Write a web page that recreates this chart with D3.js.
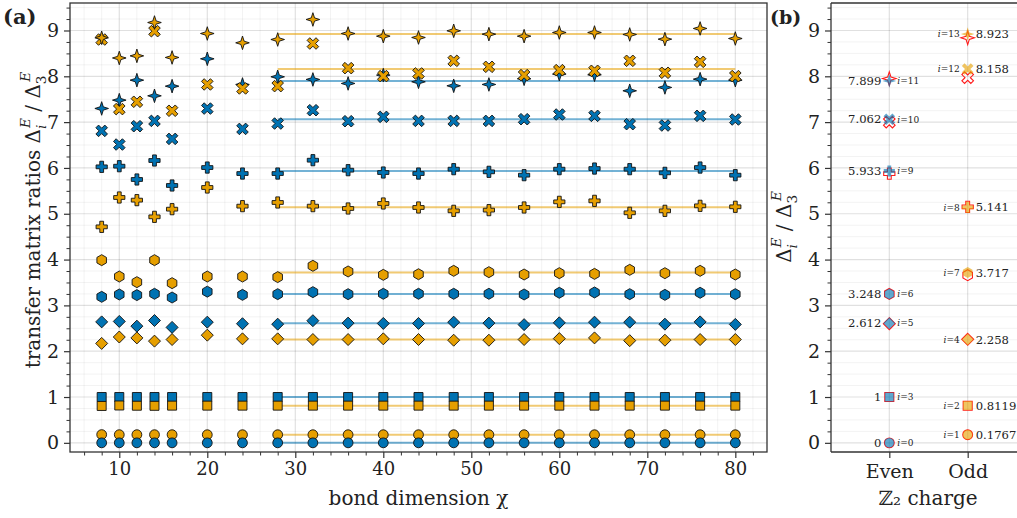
<!DOCTYPE html>
<html>
<head>
<meta charset="utf-8">
<script src="https://cdn.jsdelivr.net/npm/d3@7"></script>
<style>
  html, body { margin: 0; padding: 0; background: #fff; }
  text { font-family: "DejaVu Serif", serif; fill: #222; }
</style>
</head>
<body>
<svg id="chart" width="1017" height="518"></svg>
<script>
// ---------------- DATA ----------------
const chi = [8,10,12,14,16,20,24,28,32,36,40,44,48,52,56,60,64,68,72,76,80];
const xTicks = [10,20,30,40,50,60,70,80];
const yTicks = [0,1,2,3,4,5,6,7,8,9];
const chargeLabels = ["Even", "Odd"];

const L0  = [0,0,0,0,0,0,0,0,0,0,0,0,0,0,0,0,0,0,0,0,0];
const L1  = [0.18,0.178,0.178,0.178,0.178,0.177,0.177,0.177,0.177,0.177,0.177,0.177,0.177,0.177,0.177,0.177,0.177,0.177,0.177,0.177,0.177];
const L2  = [0.805,0.815,0.81,0.808,0.812,0.812,0.812,0.812,0.812,0.812,0.812,0.812,0.812,0.812,0.812,0.812,0.812,0.812,0.812,0.812,0.812];
const L3  = [1,1,1,1,1,1,1,1,1,1,1,1,1,1,1,1,1,1,1,1,1];
const L4  = [2.17,2.31,2.29,2.22,2.255,2.35,2.27,2.27,2.255,2.255,2.27,2.255,2.24,2.24,2.255,2.275,2.29,2.23,2.24,2.255,2.255];
const L5  = [2.64,2.65,2.547,2.67,2.52,2.634,2.6,2.59,2.666,2.613,2.606,2.606,2.634,2.613,2.58,2.62,2.634,2.634,2.59,2.64,2.585];
const L6  = [3.187,3.238,3.224,3.253,3.172,3.3,3.23,3.245,3.289,3.245,3.253,3.253,3.253,3.253,3.238,3.275,3.282,3.245,3.23,3.275,3.245];
const L7  = [3.987,3.63,3.507,3.987,3.485,3.63,3.63,3.617,3.864,3.74,3.667,3.68,3.754,3.725,3.674,3.703,3.688,3.776,3.703,3.754,3.674];
const L8  = [4.714,5.355,5.297,4.933,5.1,5.573,5.166,5.246,5.166,5.115,5.224,5.137,5.064,5.079,5.137,5.26,5.282,5.021,5.064,5.173,5.152];
const L9  = [6.024,6.038,5.748,6.162,5.617,6.009,5.878,5.878,6.169,5.951,5.9,5.878,5.973,5.915,5.842,5.973,5.987,5.973,5.893,6.009,5.842];
const L10 = [6.809,6.511,6.911,7.027,6.634,7.296,6.852,6.969,7.26,7.02,7.115,7.027,7.027,7.027,7.064,7.166,7.137,6.955,6.926,7.137,7.057];
const L11 = [7.298,7.48,7.916,7.574,7.785,8.382,7.822,7.989,7.931,7.844,8.026,7.88,7.793,7.822,7.946,8.048,8.033,7.684,7.757,7.938,7.916];
const L12 = [8.803,7.284,7.444,8.985,7.248,7.822,7.735,7.785,8.716,8.178,8.004,8.062,8.338,8.207,8.026,8.135,8.12,8.338,8.077,8.316,8.004];
const L13 = [8.84,8.4,8.446,9.174,8.411,8.934,8.731,8.803,9.24,8.934,8.876,8.847,8.993,8.92,8.876,8.956,8.956,8.913,8.811,9.044,8.825];
const levels = [L0,L1,L2,L3,L4,L5,L6,L7,L8,L9,L10,L11,L12,L13];

// extrapolated (fitted) ratios, shown as lines in (a) and filled markers in (b)
const fitted = [0,0.1767,0.8119,1,2.258,2.612,3.248,3.717,5.141,5.933,7.062,7.899,8.158,8.923];
// reference values (red open markers in (b))
const exact  = [0,0.177,0.81,1,2.26,2.6,3.25,3.66,5.15,5.875,7.0,7.95,7.97,8.84];
// Z2 charge of each level: 0 = even, 1 = odd
const charge = [0,1,1,0,1,0,0,1,1,0,0,0,1,1];
const shapes = ["circle","circle","rect","rect","diamond","diamond","hexagon","hexagon","cross","cross","xcross","star4","xcross","star4"];
const fitStart = 28, fitEnd = 80;
const drawOrder = [1,0,3,2,4,5,6,7,8,9,10,11,12,13];

// ---------------- STYLE ----------------
const BLUE = "#0072B2", ORANGE = "#E69F00";
const col = c => c === 0 ? BLUE : ORANGE;

function shapePath(shape) {
  switch (shape) {
    case "circle": { const r = 4.9; return `M${r},0A${r},${r} 0 1 1 ${-r},0A${r},${r} 0 1 1 ${r},0Z`; }
    case "rect": { const s = 4.5; return `M${-s},${-s}H${s}V${s}H${-s}Z`; }
    case "diamond": { const h = 6; return `M0,${-h}L${h},0L0,${h}L${-h},0Z`; }
    case "hexagon": {
      const r = 5.5; const p = d3.range(6).map(k => { const a = -Math.PI/2 + k*Math.PI/3; return [r*Math.cos(a), r*Math.sin(a)]; });
      return "M" + p.map(q => q.join(",")).join("L") + "Z";
    }
    case "cross": case "xcross": {
      const a = shape === "cross" ? 5.6 : 6.3, w = 1.9;
      let p = [[-w,-a],[w,-a],[w,-w],[a,-w],[a,w],[w,w],[w,a],[-w,a],[-w,w],[-a,w],[-a,-w],[-w,-w]];
      if (shape === "xcross") { const c = Math.SQRT1_2; p = p.map(([x,y]) => [c*(x-y), c*(x+y)]); }
      return "M" + p.map(q => q.map(v => v.toFixed(2)).join(",")).join("L") + "Z";
    }
    case "star4": {
      const R = 6.8, r = 2.3; const p = [];
      for (let k = 0; k < 8; k++) { const a = -Math.PI/2 + k*Math.PI/4; const rr = k % 2 ? r : R; p.push([rr*Math.cos(a), rr*Math.sin(a)]); }
      return "M" + p.map(q => q.map(v => v.toFixed(2)).join(",")).join("L") + "Z";
    }
  }
}

const svg = d3.select("#chart");
svg.append("rect").attr("width",1017).attr("height",518).attr("fill","#fff");

// ---------------- PANEL (a) ----------------
const A = {l:70, r:767, t:3, b:452};
const xA = d3.scaleLinear().domain([4.4, 83.6]).range([A.l, A.r]);
const yA = d3.scaleLinear().domain([-0.2, 9.6]).range([A.b, A.t]);
const yMinor = d3.range(-0.0, 9.6, 0.25).filter(v => Math.abs(v - Math.round(v)) > 1e-6);
const xMinor = d3.range(6, 83, 2).filter(v => v % 10 !== 0);

const gA = svg.append("g");
// grid
gA.selectAll(".ymg").data(yMinor).join("line")
  .attr("x1",A.l).attr("x2",A.r).attr("y1",d=>yA(d)).attr("y2",d=>yA(d))
  .attr("stroke","rgba(0,0,0,0.05)").attr("stroke-width",1);
gA.selectAll(".xmg").data(xMinor).join("line")
  .attr("y1",A.t).attr("y2",A.b).attr("x1",d=>xA(d)).attr("x2",d=>xA(d))
  .attr("stroke","rgba(0,0,0,0.05)").attr("stroke-width",1);
gA.selectAll(".yg").data(yTicks).join("line")
  .attr("x1",A.l).attr("x2",A.r).attr("y1",d=>yA(d)).attr("y2",d=>yA(d))
  .attr("stroke","rgba(0,0,0,0.12)").attr("stroke-width",1.2);
gA.selectAll(".xg").data(xTicks).join("line")
  .attr("y1",A.t).attr("y2",A.b).attr("x1",d=>xA(d)).attr("x2",d=>xA(d))
  .attr("stroke","rgba(0,0,0,0.12)").attr("stroke-width",1.2);

// fit lines
gA.selectAll(".fit").data(d3.range(fitted.length)).join("line")
  .attr("x1", xA(fitStart)).attr("x2", xA(fitEnd))
  .attr("y1", i => yA(fitted[i])).attr("y2", i => yA(fitted[i]))
  .attr("stroke", i => col(charge[i])).attr("stroke-opacity", 0.55).attr("stroke-width", 2);

// markers
drawOrder.forEach(i => {
  gA.append("g").selectAll("path").data(chi.map((c,k) => [c, levels[i][k]])).join("path")
    .attr("d", shapePath(shapes[i]))
    .attr("transform", d => `translate(${xA(d[0])},${yA(d[1])})`)
    .attr("fill", col(charge[i])).attr("stroke", "#111").attr("stroke-width", 0.9);
});

// frame
gA.append("rect").attr("x",A.l).attr("y",A.t).attr("width",A.r-A.l).attr("height",A.b-A.t)
  .attr("fill","none").attr("stroke","#333").attr("stroke-width",1.3);

// axes
const axAx = gA.append("g").attr("transform",`translate(0,${A.b})`)
  .call(d3.axisBottom(xA).tickValues(xTicks).tickSize(6).tickPadding(4).tickFormat(d3.format("d")));
axAx.select(".domain").remove();
axAx.selectAll("line").attr("stroke","#333").attr("stroke-width",1.2);
axAx.selectAll("text").attr("font-size",18).attr("font-family","DejaVu Serif").attr("fill","#222");
const axAxm = gA.append("g").attr("transform",`translate(0,${A.b})`)
  .call(d3.axisBottom(xA).tickValues(xMinor).tickSize(3.5).tickFormat(""));
axAxm.select(".domain").remove();
axAxm.selectAll("line").attr("stroke","#333").attr("stroke-width",1);

const ayA = gA.append("g").attr("transform",`translate(${A.l},0)`)
  .call(d3.axisLeft(yA).tickValues(yTicks).tickSize(6).tickPadding(5).tickFormat(d3.format("d")));
ayA.select(".domain").remove();
ayA.selectAll("line").attr("stroke","#333").attr("stroke-width",1.2);
ayA.selectAll("text").attr("font-size",19).attr("font-family","DejaVu Serif").attr("fill","#222");
const ayAm = gA.append("g").attr("transform",`translate(${A.l},0)`)
  .call(d3.axisLeft(yA).tickValues(yMinor).tickSize(3.5).tickFormat(""));
ayAm.select(".domain").remove();
ayAm.selectAll("line").attr("stroke","#333").attr("stroke-width",1);

// axis titles
svg.append("text").attr("x",(A.l+A.r)/2).attr("y",505).attr("text-anchor","middle")
  .attr("font-size",20).text("bond dimension χ");

function deltaRatio(t, fs) {
  const s = fs*0.68;
  t.append("tspan").text("Δ");
  t.append("tspan").attr("font-size",s).attr("font-style","italic").attr("dy",fs*0.3).text("i");
  t.append("tspan").attr("font-size",s).attr("font-style","italic").attr("dx",-s*0.25).attr("dy",-fs*0.78).text("E");
  t.append("tspan").attr("dy",fs*0.48).text(" / Δ");
  t.append("tspan").attr("font-size",s).attr("dy",fs*0.3).text("3");
  t.append("tspan").attr("font-size",s).attr("font-style","italic").attr("dx",-s*0.45).attr("dy",-fs*0.78).text("E");
}
const tA = svg.append("text").attr("transform","translate(40,220) rotate(-90)")
  .attr("text-anchor","middle").attr("font-size",20);
tA.append("tspan").text("transfer matrix ratios ");
deltaRatio(tA, 20);

svg.append("text").attr("x",3).attr("y",24).attr("font-size",21).attr("font-weight","bold").text("(a)");

// ---------------- PANEL (b) ----------------
const B = {l:831, r:1026, t:3, b:452};
const xB = d3.scaleLinear().domain([0.256, 2.744]).range([B.l, B.r]);
const yB = d3.scaleLinear().domain([-0.2, 9.6]).range([B.b, B.t]);
const gB = svg.append("g");
gB.selectAll(".ymg").data(yMinor).join("line")
  .attr("x1",B.l).attr("x2",B.r).attr("y1",d=>yB(d)).attr("y2",d=>yB(d))
  .attr("stroke","rgba(0,0,0,0.05)").attr("stroke-width",1);
gB.selectAll(".yg").data(yTicks).join("line")
  .attr("x1",B.l).attr("x2",B.r).attr("y1",d=>yB(d)).attr("y2",d=>yB(d))
  .attr("stroke","rgba(0,0,0,0.12)").attr("stroke-width",1.2);
gB.selectAll(".xg").data([1,2]).join("line")
  .attr("y1",B.t).attr("y2",B.b).attr("x1",d=>xB(d)).attr("x2",d=>xB(d))
  .attr("stroke","rgba(0,0,0,0.12)").attr("stroke-width",1.2);

const idx = d3.range(fitted.length);
// reference (red open) markers
gB.selectAll(".ex").data(idx).join("path")
  .attr("d", i => shapePath(shapes[i]))
  .attr("transform", i => `translate(${xB(charge[i]+1)},${yB(exact[i])})`)
  .attr("fill","none").attr("stroke","#ff1a1a").attr("stroke-width",1.1);
// fitted (filled) markers
gB.selectAll(".ft").data(idx).join("path")
  .attr("d", i => shapePath(shapes[i]))
  .attr("transform", i => `translate(${xB(charge[i]+1)},${yB(fitted[i])})`)
  .attr("fill", i => col(charge[i])).attr("fill-opacity",0.62).attr("stroke","none");

// labels
const fmt = d3.format(".4~g");
idx.forEach(i => {
  const cx = xB(charge[i]+1), cy = yB(fitted[i]);
  const even = charge[i] === 0;
  svg.append("text").attr("x", even ? cx-8 : cx+8).attr("y", cy).attr("dy","0.36em")
    .attr("text-anchor", even ? "end" : "start").attr("font-size",11.6).text(fmt(fitted[i]));
  const li = svg.append("text").attr("x", even ? cx+8 : cx-8).attr("y", cy).attr("dy","0.36em")
    .attr("text-anchor", even ? "start" : "end").attr("font-size",9).attr("fill","#333");
  li.append("tspan").attr("font-style","italic").text("i");
  li.append("tspan").text("=" + i);
});

gB.append("line").attr("x1",B.l).attr("x2",B.r).attr("y1",B.t).attr("y2",B.t).attr("stroke","#333").attr("stroke-width",1.3);
gB.append("line").attr("x1",B.l).attr("x2",B.r).attr("y1",B.b).attr("y2",B.b).attr("stroke","#333").attr("stroke-width",1.3);
gB.append("line").attr("x1",B.l).attr("x2",B.l).attr("y1",B.t).attr("y2",B.b).attr("stroke","#333").attr("stroke-width",1.3);

const axB = gB.append("g").attr("transform",`translate(0,${B.b})`)
  .call(d3.axisBottom(xB).tickValues([1,2]).tickSize(6).tickPadding(7).tickFormat((d,k) => chargeLabels[k]));
axB.select(".domain").remove();
axB.selectAll("line").attr("stroke","#333").attr("stroke-width",1.2);
axB.selectAll("text").attr("font-size",19).attr("font-family","DejaVu Serif").attr("fill","#222");

const ayB = gB.append("g").attr("transform",`translate(${B.l},0)`)
  .call(d3.axisLeft(yB).tickValues(yTicks).tickSize(6).tickPadding(5).tickFormat(d3.format("d")));
ayB.select(".domain").remove();
ayB.selectAll("line").attr("stroke","#333").attr("stroke-width",1.2);
ayB.selectAll("text").attr("font-size",19).attr("font-family","DejaVu Serif").attr("fill","#222");
const ayBm = gB.append("g").attr("transform",`translate(${B.l},0)`)
  .call(d3.axisLeft(yB).tickValues(yMinor).tickSize(3.5).tickFormat(""));
ayBm.select(".domain").remove();
ayBm.selectAll("line").attr("stroke","#333").attr("stroke-width",1);

svg.append("text").attr("x",928).attr("y",505).attr("text-anchor","middle").attr("font-size",20)
  .text("ℤ₂ charge");
const tB = svg.append("text").attr("transform","translate(791,227) rotate(-90)")
  .attr("text-anchor","middle").attr("font-size",20);
deltaRatio(tB, 20);

svg.append("text").attr("x",770).attr("y",24).attr("font-size",19).attr("font-weight","bold").text("(b)");
</script>
</body>
</html>
